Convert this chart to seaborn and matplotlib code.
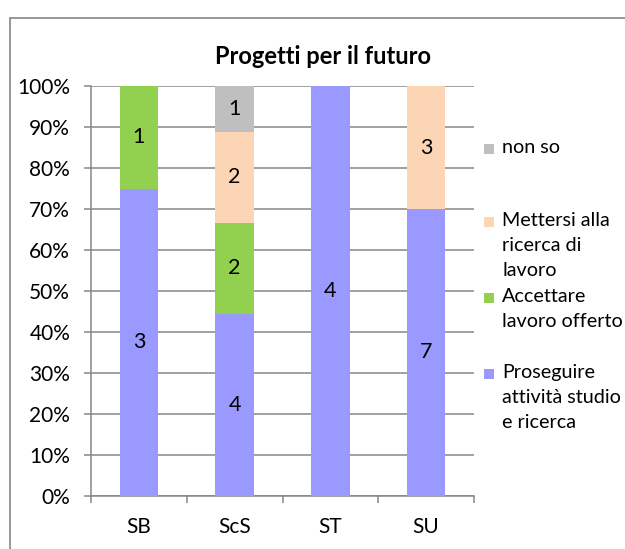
import numpy as np
import pandas as pd
import matplotlib
matplotlib.use("Agg")
import matplotlib.pyplot as plt
import seaborn as sns
from matplotlib.patches import Rectangle
from matplotlib.lines import Line2D

# ---- data ----
categories = ["SB", "ScS", "ST", "SU"]
proseguire = [3, 4, 4, 7]
accettare = [1, 2, 0, 0]
mettersi = [0, 2, 0, 3]
non_so = [0, 1, 0, 0]
series_names = ["Proseguire\nattività studio\ne ricerca",
                "Accettare\nlavoro offerto",
                "Mettersi alla\nricerca di\nlavoro",
                "non so"]
colors = ["#9999FF", "#92D050", "#FCD5B5", "#BFBFBF"]
title = "Progetti per il futuro"
yticks = [0, 0.1, 0.2, 0.3, 0.4, 0.5, 0.6, 0.7, 0.8, 0.9, 1.0]
yticklabels = ["0%", "10%", "20%", "30%", "40%", "50%", "60%", "70%", "80%", "90%", "100%"]

sns.set_theme(style="white")
plt.rcParams["font.family"] = ["Lato", "DejaVu Sans"]

counts = np.array([proseguire, accettare, mettersi, non_so], dtype=float)
totals = counts.sum(axis=0)
shares = counts / totals
cum = np.cumsum(shares, axis=0)

fig = plt.figure(figsize=(6.25, 5.49), dpi=100)
ax = fig.add_axes([91 / 625, 1 - 496 / 549, 383 / 625, 410 / 549])

# draw stacked by overlaying cumulative bars, tallest first
for i in range(3, -1, -1):
    df = pd.DataFrame({"cat": categories, "val": cum[i]})
    sns.barplot(data=df, x="cat", y="val", color=colors[i], width=0.4,
                saturation=1, ax=ax, zorder=3, edgecolor="none", linewidth=0)

# data labels
for i in range(4):
    for j, c in enumerate(categories):
        if counts[i, j] > 0:
            mid = cum[i, j] - shares[i, j] / 2
            ax.text(j, mid, f"{int(counts[i, j])}", ha="center", va="center",
                    fontsize=15.5, color="black", zorder=5)

ax.set_ylim(0, 1)
ax.set_xlim(-0.5, 3.5)
ax.set_yticks(yticks)
ax.set_yticklabels(yticklabels, fontsize=15, color="black")
ax.set_xlabel("")
ax.set_ylabel("")
ax.yaxis.grid(True, color="#868686", linewidth=1.1, zorder=0)
ax.set_axisbelow(True)
for s in ["top", "right"]:
    ax.spines[s].set_visible(False)
for s in ["left", "bottom"]:
    ax.spines[s].set_color("#868686")
    ax.spines[s].set_linewidth(1.1)
ax.tick_params(axis="y", which="both", left=True, length=5, width=1.1,
               color="#868686", pad=10)
# x ticks at category boundaries
ax.set_xticks([0, 1, 2, 3])
ax.set_xticklabels(categories, fontsize=15, color="black")
ax.tick_params(axis="x", which="major", length=0, pad=15)
ax.set_xticks([-0.5, 0.5, 1.5, 2.5, 3.5], minor=True)
ax.tick_params(axis="x", which="minor", bottom=True, length=5, width=1.1,
               color="#868686")

# title
fig.text(323 / 625, 1 - 57 / 549, title, ha="center", va="center",
         fontsize=17, fontweight="bold", color="black")

# legend (manual, Excel-style)
leg_entries = [(3, 149), (2, 222), (1, 298), (0, 374)]
for idx, ycen in leg_entries:
    sq = 10
    fig.patches.append(Rectangle((484 / 625, 1 - (ycen + sq / 2) / 549),
                                 sq / 625, sq / 549, transform=fig.transFigure,
                                 facecolor=colors[idx], edgecolor="none"))
    fig.text(502 / 625, 1 - (ycen - 10) / 549, series_names[idx],
             ha="left", va="top", fontsize=14.2, color="black", linespacing=1.58)

# outer chart border
fig.add_artist(Line2D([10 / 625, 10 / 625], [0, 1 - 18 / 549],
                      transform=fig.transFigure, color="#868686", linewidth=1.2))
fig.add_artist(Line2D([10 / 625, 1], [1 - 18 / 549, 1 - 18 / 549],
                      transform=fig.transFigure, color="#868686", linewidth=1.2))

fig.savefig("out.png", dpi=100, facecolor="white")
